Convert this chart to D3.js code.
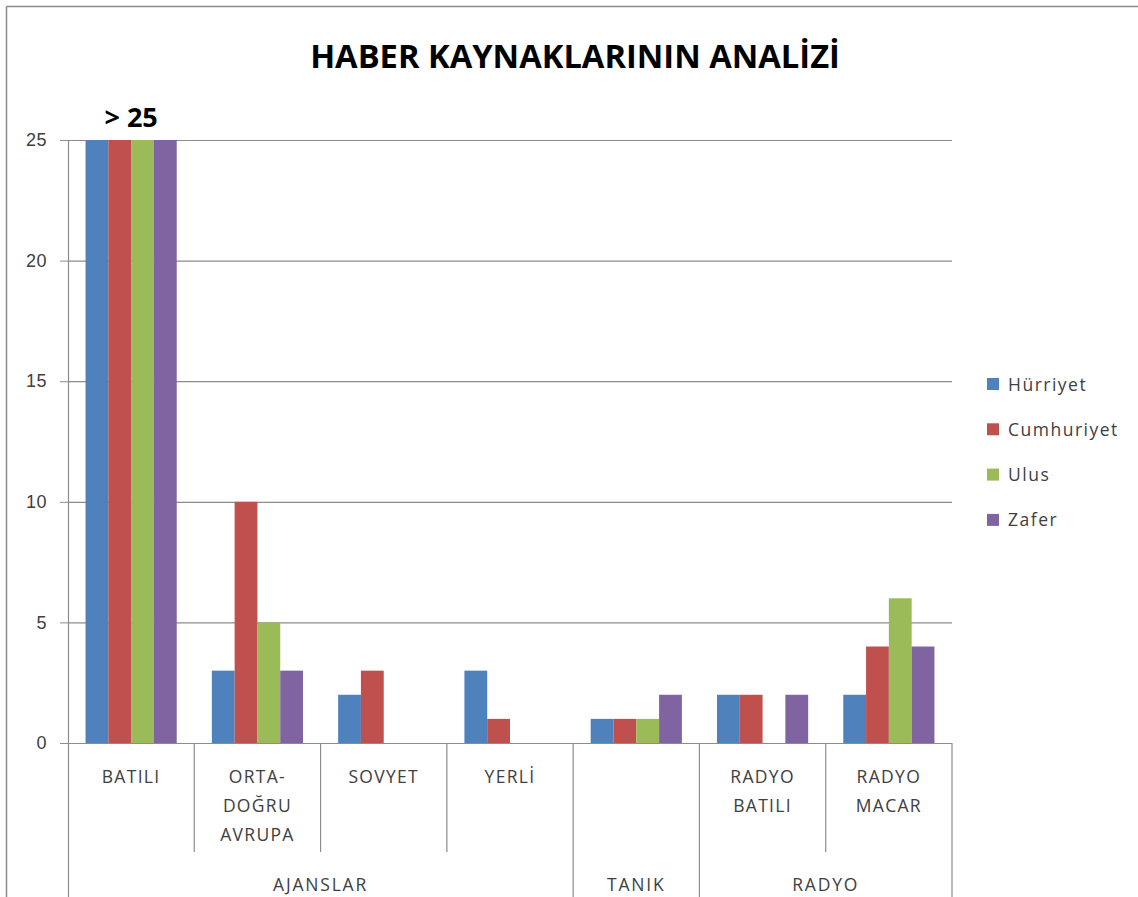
<!DOCTYPE html>
<html>
<head>
<meta charset="utf-8">
<script src="https://cdn.jsdelivr.net/npm/d3@7"></script>
<style>
  body { margin: 0; background: #fff; }
  svg { display: block; font-family: "Open Sans", sans-serif; }
</style>
</head>
<body>
<svg id="chart" width="1138" height="897"></svg>
<script>
const categories = ["BATILI", "ORTA-DOĞRU AVRUPA", "SOVYET", "YERLİ", "TANIK", "RADYO BATILI", "RADYO MACAR"];
const catLabels = ["BATILI", "ORTA-\nDOĞRU\nAVRUPA", "SOVYET", "YERLİ", "", "RADYO\nBATILI", "RADYO\nMACAR"];
const groups = ["AJANSLAR", "TANIK", "RADYO"];
const groupSizes = [4, 1, 2];
const seriesNames = ["Hürriyet", "Cumhuriyet", "Ulus", "Zafer"];
const hurriyet = [25, 3, 2, 3, 1, 2, 2];
const cumhuriyet = [25, 10, 3, 1, 1, 2, 4];
const ulus = [25, 5, 0, 0, 1, 0, 6];
const zafer = [25, 3, 0, 0, 2, 2, 4];
const yTicks = [0, 5, 10, 15, 20, 25];
const colors = ["#4F81BD", "#C0504D", "#9BBB59", "#8064A2"];

const series = [hurriyet, cumhuriyet, ulus, zafer];
const svg = d3.select("#chart");
const gridColor = "#8c8c8c";
const textColor = "#404040";

const plotLeft = 68, plotRight = 952, plotTop = 140, plotBottom = 743;

// outer frame (only top and left edge are visible)
svg.append("line").attr("x1", 6.5).attr("y1", 6.5).attr("x2", 1138).attr("y2", 6.5)
    .attr("stroke", "#8a8a8a").attr("stroke-width", 1.5);
svg.append("line").attr("x1", 6.5).attr("y1", 6.5).attr("x2", 6.5).attr("y2", 897)
    .attr("stroke", "#8a8a8a").attr("stroke-width", 1.5);

const x = d3.scaleBand().domain(categories).range([plotLeft, plotRight]).padding(0);
const xs = d3.scaleBand().domain(d3.range(seriesNames.length))
    .range([0, x.bandwidth()]).paddingInner(0).paddingOuter(0.77);
const y = d3.scaleLinear().domain([0, 25]).range([plotBottom, plotTop]).clamp(true);

// title
const title = svg.append("text")
    .text("HABER KAYNAKLARININ ANALİZİ")
    .attr("x", 575).attr("y", 68)
    .attr("text-anchor", "middle")
    .attr("font-weight", "bold")
    .attr("font-size", 30)
    .attr("fill", "#000");
const tw = title.node().getComputedTextLength();
title.attr("font-size", 30 * 530 / tw);

// y axis + gridlines
const yAxis = svg.append("g").attr("transform", "translate(" + plotLeft + ",0)")
    .call(d3.axisLeft(y).tickValues(yTicks).tickSize(8).tickPadding(13));
yAxis.select(".domain").remove();
yAxis.selectAll(".tick line").attr("stroke", gridColor);
yAxis.selectAll(".tick text").attr("font-size", 18).attr("letter-spacing", 0.5).attr("fill", textColor);

svg.append("g").selectAll("line")
    .data(yTicks)
    .enter().append("line")
    .attr("x1", plotLeft).attr("x2", plotRight)
    .attr("y1", d => y(d) + 0.5).attr("y2", d => y(d) + 0.5)
    .attr("stroke", gridColor).attr("stroke-width", 1.2);

// bars
const bars = svg.append("g");
series.forEach((vals, si) => {
    bars.selectAll(".s" + si)
        .data(vals)
        .enter().append("rect")
        .attr("class", "s" + si)
        .attr("x", (d, i) => x(categories[i]) + xs(si))
        .attr("width", xs.bandwidth())
        .attr("y", d => y(d))
        .attr("height", d => y(0) - y(d))
        .attr("fill", colors[si]);
});

// "> 25" note over the clipped group
svg.append("text")
    .text("> 25")
    .attr("x", x(categories[0]) + x.bandwidth() / 2)
    .attr("y", 127)
    .attr("text-anchor", "middle")
    .attr("font-weight", "bold")
    .attr("font-size", 27)
    .attr("fill", "#000");

// y axis line
svg.append("line").attr("x1", plotLeft + 0.5).attr("x2", plotLeft + 0.5)
    .attr("y1", plotTop).attr("y2", 897)
    .attr("stroke", gridColor).attr("stroke-width", 1.2);

// multi-level category axis
const boundaries = [0];
groupSizes.forEach(s => boundaries.push(boundaries[boundaries.length - 1] + s));
const axisG = svg.append("g");
categories.forEach((c, i) => {
    const xp = x(c) + x.bandwidth();
    const isGroupEdge = boundaries.includes(i + 1);
    axisG.append("line")
        .attr("x1", xp).attr("x2", xp)
        .attr("y1", plotBottom).attr("y2", isGroupEdge ? 897 : 852)
        .attr("stroke", gridColor).attr("stroke-width", 1.2);
    const lines = catLabels[i].split("\n");
    const t = axisG.append("text")
        .attr("x", x(c) + x.bandwidth() / 2)
        .attr("y", 783)
        .attr("text-anchor", "middle")
        .attr("font-size", 17.5)
        .attr("letter-spacing", 1.3)
        .attr("fill", textColor);
    lines.forEach((l, li) => {
        t.append("tspan").text(l)
            .attr("x", x(c) + x.bandwidth() / 2)
            .attr("dy", li === 0 ? 0 : 29);
    });
});

groups.forEach((g, gi) => {
    const x0 = x(categories[boundaries[gi]]);
    const x1 = x(categories[boundaries[gi + 1] - 1]) + x.bandwidth();
    axisG.append("text")
        .text(g)
        .attr("x", (x0 + x1) / 2)
        .attr("y", 891)
        .attr("text-anchor", "middle")
        .attr("font-size", 17.5)
        .attr("letter-spacing", 1.8)
        .attr("fill", textColor);
});

// legend
const legend = svg.append("g").attr("transform", "translate(987,384)");
seriesNames.forEach((n, i) => {
    const row = legend.append("g").attr("transform", "translate(0," + (i * 45.3) + ")");
    row.append("rect").attr("x", 0).attr("y", -6).attr("width", 12).attr("height", 12)
        .attr("fill", colors[i]);
    row.append("text").text(n)
        .attr("x", 21).attr("y", 6.5)
        .attr("font-size", 17.5)
        .attr("letter-spacing", 1.5)
        .attr("fill", textColor);
});
</script>
</body>
</html>
